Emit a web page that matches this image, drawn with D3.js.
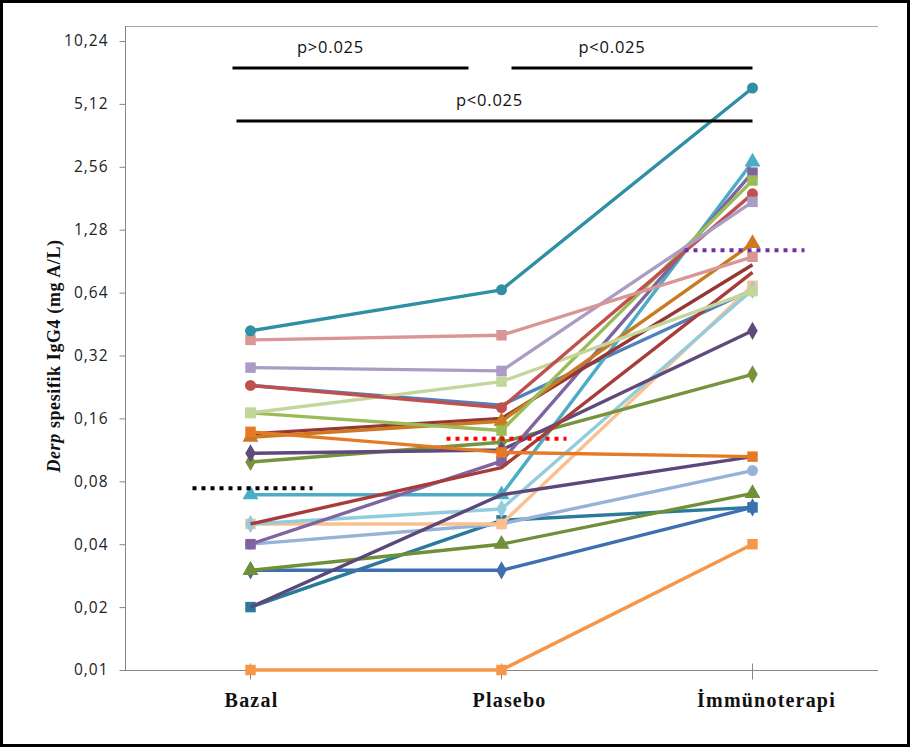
<!DOCTYPE html>
<html lang="tr">
<head>
    <meta charset="UTF-8">
    <title>Derp spesifik IgG4</title>
    <script src="https://d3js.org/d3.v7.min.js"></script>
    <style>
        body { margin: 0; background: #fff; }
        svg { display: block; }
    </style>
</head>
<body>
    <svg id="chart" width="910" height="747"></svg>
    <script>
        // categories and y ticks
        const categories = ["Bazal", "Plasebo", "İmmünoterapi"];
        const tickValues = [0.01, 0.02, 0.04, 0.08, 0.16, 0.32, 0.64, 1.28, 2.56, 5.12, 10.24];
        const tickLabels = ["0,01", "0,02", "0,04", "0,08", "0,16", "0,32", "0,64", "1,28", "2,56", "5,12", "10,24"];

        // one value per patient for each visit
        const bazal   = [0.42, 0.38, 0.28, 0.23, 0.17, 0.17, 0.138, 0.13, 0.135, 0.05, 0.04, 0.109, 0.02, 0.099, 0.069, 0.05, 0.05, 0.04, 0.03, 0.03, 0.02, 0.01, 0.23];
        const plasebo = [0.66, 0.40, 0.27, 0.18, 0.24, 0.14, 0.11, 0.155, 0.16, 0.093, 0.10, 0.113, 0.069, 0.123, 0.069, 0.059, 0.05, 0.05, 0.04, 0.03, 0.052, 0.01, 0.185];
        const immuno  = [6.1, 0.95, 1.74, 1.9, 0.65, 2.2, 0.105, 1.1, 0.87, 0.8, 2.4, 0.42, 0.105, 0.26, 2.7, 0.66, 0.69, 0.09, 0.07, 0.06, 0.06, 0.04, 0.66];

        // medians per visit
        const medians = [0.074, 0.128, 1.02];

        // pairwise comparisons
        const compFrom = ["Bazal", "Plasebo", "Bazal"];
        const compTo = ["Plasebo", "İmmünoterapi", "İmmünoterapi"];
        const compText = ["p>0.025", "p<0.025", "p<0.025"];

        // styling
        const seriesColors = ["#2f8fa5", "#d99694", "#ab9cc6", "#c0504d", "#c3d69b", "#9bbb59", "#e47b24", "#cc7a22",
            "#953735", "#a83c3a", "#8064a2", "#604a7b", "#5b477a", "#77933c", "#4bacc6", "#93cddd", "#fac090",
            "#95b3d7", "#6f8f38", "#3f6fb0", "#2a7a99", "#f79646", "#4f81bd"];
        const seriesMarkers = ["circle", "square", "square", "circle", "square", "square", "square", "triangle",
            "none", "none", "square", "diamond", "none", "diamond", "triangle", "diamond", "square",
            "circle", "triangle", "diamond", "square", "square", "none"];
        const medianColors = ["#000000", "#ff0000", "#7030a0"];

        const svg = d3.select("#chart");
        const width = +svg.attr("width");
        const height = +svg.attr("height");

        svg.append("rect").attr("x", 1.5).attr("y", 1.5)
            .attr("width", width - 3).attr("height", height - 3)
            .attr("fill", "#fff").attr("stroke", "#000").attr("stroke-width", 3);

        const plot = { left: 125, right: 878, top: 26, bottom: 670 };

        const x = d3.scaleBand().domain(categories).range([plot.left, plot.right]);
        const xc = c => x(c) + x.bandwidth() / 2;
        const y = d3.scaleLog().base(2).domain([0.01, 10.24]).range([plot.bottom, 41]);

        // plot frame (top line + axes)
        svg.append("line").attr("x1", plot.left).attr("x2", plot.right)
            .attr("y1", plot.top + 0.5).attr("y2", plot.top + 0.5)
            .attr("stroke", "#a6a6a6").attr("stroke-width", 1);

        const yAxis = svg.append("g")
            .attr("transform", `translate(${plot.left + 0.5},0)`)
            .call(d3.axisLeft(y).tickValues(tickValues).tickFormat((d, i) => tickLabels[i]).tickSize(6).tickPadding(11));
        yAxis.select(".domain").attr("d", `M0,${plot.top}V${plot.bottom}`).attr("stroke", "#868686");
        yAxis.selectAll(".tick line").attr("stroke", "#868686");
        yAxis.selectAll(".tick text")
            .attr("font-family", "'Open Sans', sans-serif").attr("font-size", 15.5)
            .attr("letter-spacing", "1px").attr("fill", "#222");

        const labelShift = [1, 8, 14];
        const xAxis = svg.append("g")
            .attr("transform", `translate(0,${plot.bottom + 0.5})`)
            .call(d3.axisBottom(x).tickSize(0).tickPadding(22));
        xAxis.select(".domain").attr("d", `M${plot.left},0H${plot.right}`).attr("stroke", "#868686");
        xAxis.selectAll(".tick text")
            .attr("dx", (d, i) => labelShift[i])
            .attr("font-family", "'Liberation Serif', 'Times New Roman', serif")
            .attr("font-weight", "bold").attr("font-size", 20)
            .attr("letter-spacing", "1.2px").attr("fill", "#111");
        xAxis.selectAll(".tick").append("line")
            .attr("y1", -7).attr("y2", 9).attr("stroke", "#868686");

        // y axis title
        const title = svg.append("text")
            .attr("transform", "translate(60,356) rotate(-90)")
            .attr("text-anchor", "middle")
            .attr("font-family", "'Liberation Serif', 'Times New Roman', serif")
            .attr("font-weight", "bold").attr("font-size", 18)
            .attr("letter-spacing", "0.6px").attr("fill", "#111");
        title.append("tspan").attr("font-style", "italic").text("Derp");
        title.append("tspan").text(" spesifik IgG4 (mg A/L)");

        // series
        const series = bazal.map((b, i) => ({
            color: seriesColors[i],
            marker: seriesMarkers[i],
            values: [b, plasebo[i], immuno[i]].map((v, j) => ({ cat: categories[j], v: v }))
        }));

        const line = d3.line().x(d => xc(d.cat)).y(d => y(d.v));
        const symbolFor = {
            square: d3.symbolSquare, circle: d3.symbolCircle,
            triangle: d3.symbolTriangle, diamond: d3.symbolDiamond
        };
        const symbolSize = { square: 110, circle: 95, triangle: 110, diamond: 95 };

        const order = d3.range(series.length).reverse();
        const g = svg.append("g");
        order.forEach(i => {
            const s = series[i];
            const sg = g.append("g");
            sg.append("path").datum(s.values)
                .attr("d", line).attr("fill", "none")
                .attr("stroke", s.color).attr("stroke-width", 3.4)
                .attr("stroke-linejoin", "round");
            if (s.marker !== "none") {
                sg.selectAll("path.m").data(s.values).join("path")
                    .attr("class", "m")
                    .attr("transform", d => `translate(${xc(d.cat)},${y(d.v)})`)
                    .attr("d", d3.symbol().type(symbolFor[s.marker]).size(symbolSize[s.marker]))
                    .attr("fill", s.color);
            }
        });

        // median dotted lines
        const medianShift = [0, 3, -10];
        svg.selectAll("line.median").data(medians).join("line")
            .attr("class", "median")
            .attr("x1", (d, i) => xc(categories[i]) - 58 + medianShift[i])
            .attr("x2", (d, i) => xc(categories[i]) + 62 + medianShift[i])
            .attr("y1", d => y(d)).attr("y2", d => y(d))
            .attr("stroke", (d, i) => medianColors[i])
            .attr("stroke-width", 4).attr("stroke-dasharray", "4,5");

        // comparison bars
        const barY = [68, 68, 121];
        const barStart = [-18, 10, -14];
        const barEnd = [-33, 0, 0];
        compText.forEach((t, i) => {
            const x1 = xc(compFrom[i]) + barStart[i];
            const x2 = xc(compTo[i]) + barEnd[i];
            svg.append("line")
                .attr("x1", x1).attr("x2", x2)
                .attr("y1", barY[i]).attr("y2", barY[i])
                .attr("stroke", "#000").attr("stroke-width", 3);
            svg.append("text")
                .attr("x", (x1 + x2) / 2 - (i === 2 ? 5 : 20)).attr("y", barY[i] - 15)
                .attr("text-anchor", "middle")
                .attr("font-family", "'Open Sans', sans-serif").attr("font-size", 16.5)
                .attr("letter-spacing", "0.8px").attr("fill", "#111")
                .text(t);
        });
    </script>
</body>
</html>
